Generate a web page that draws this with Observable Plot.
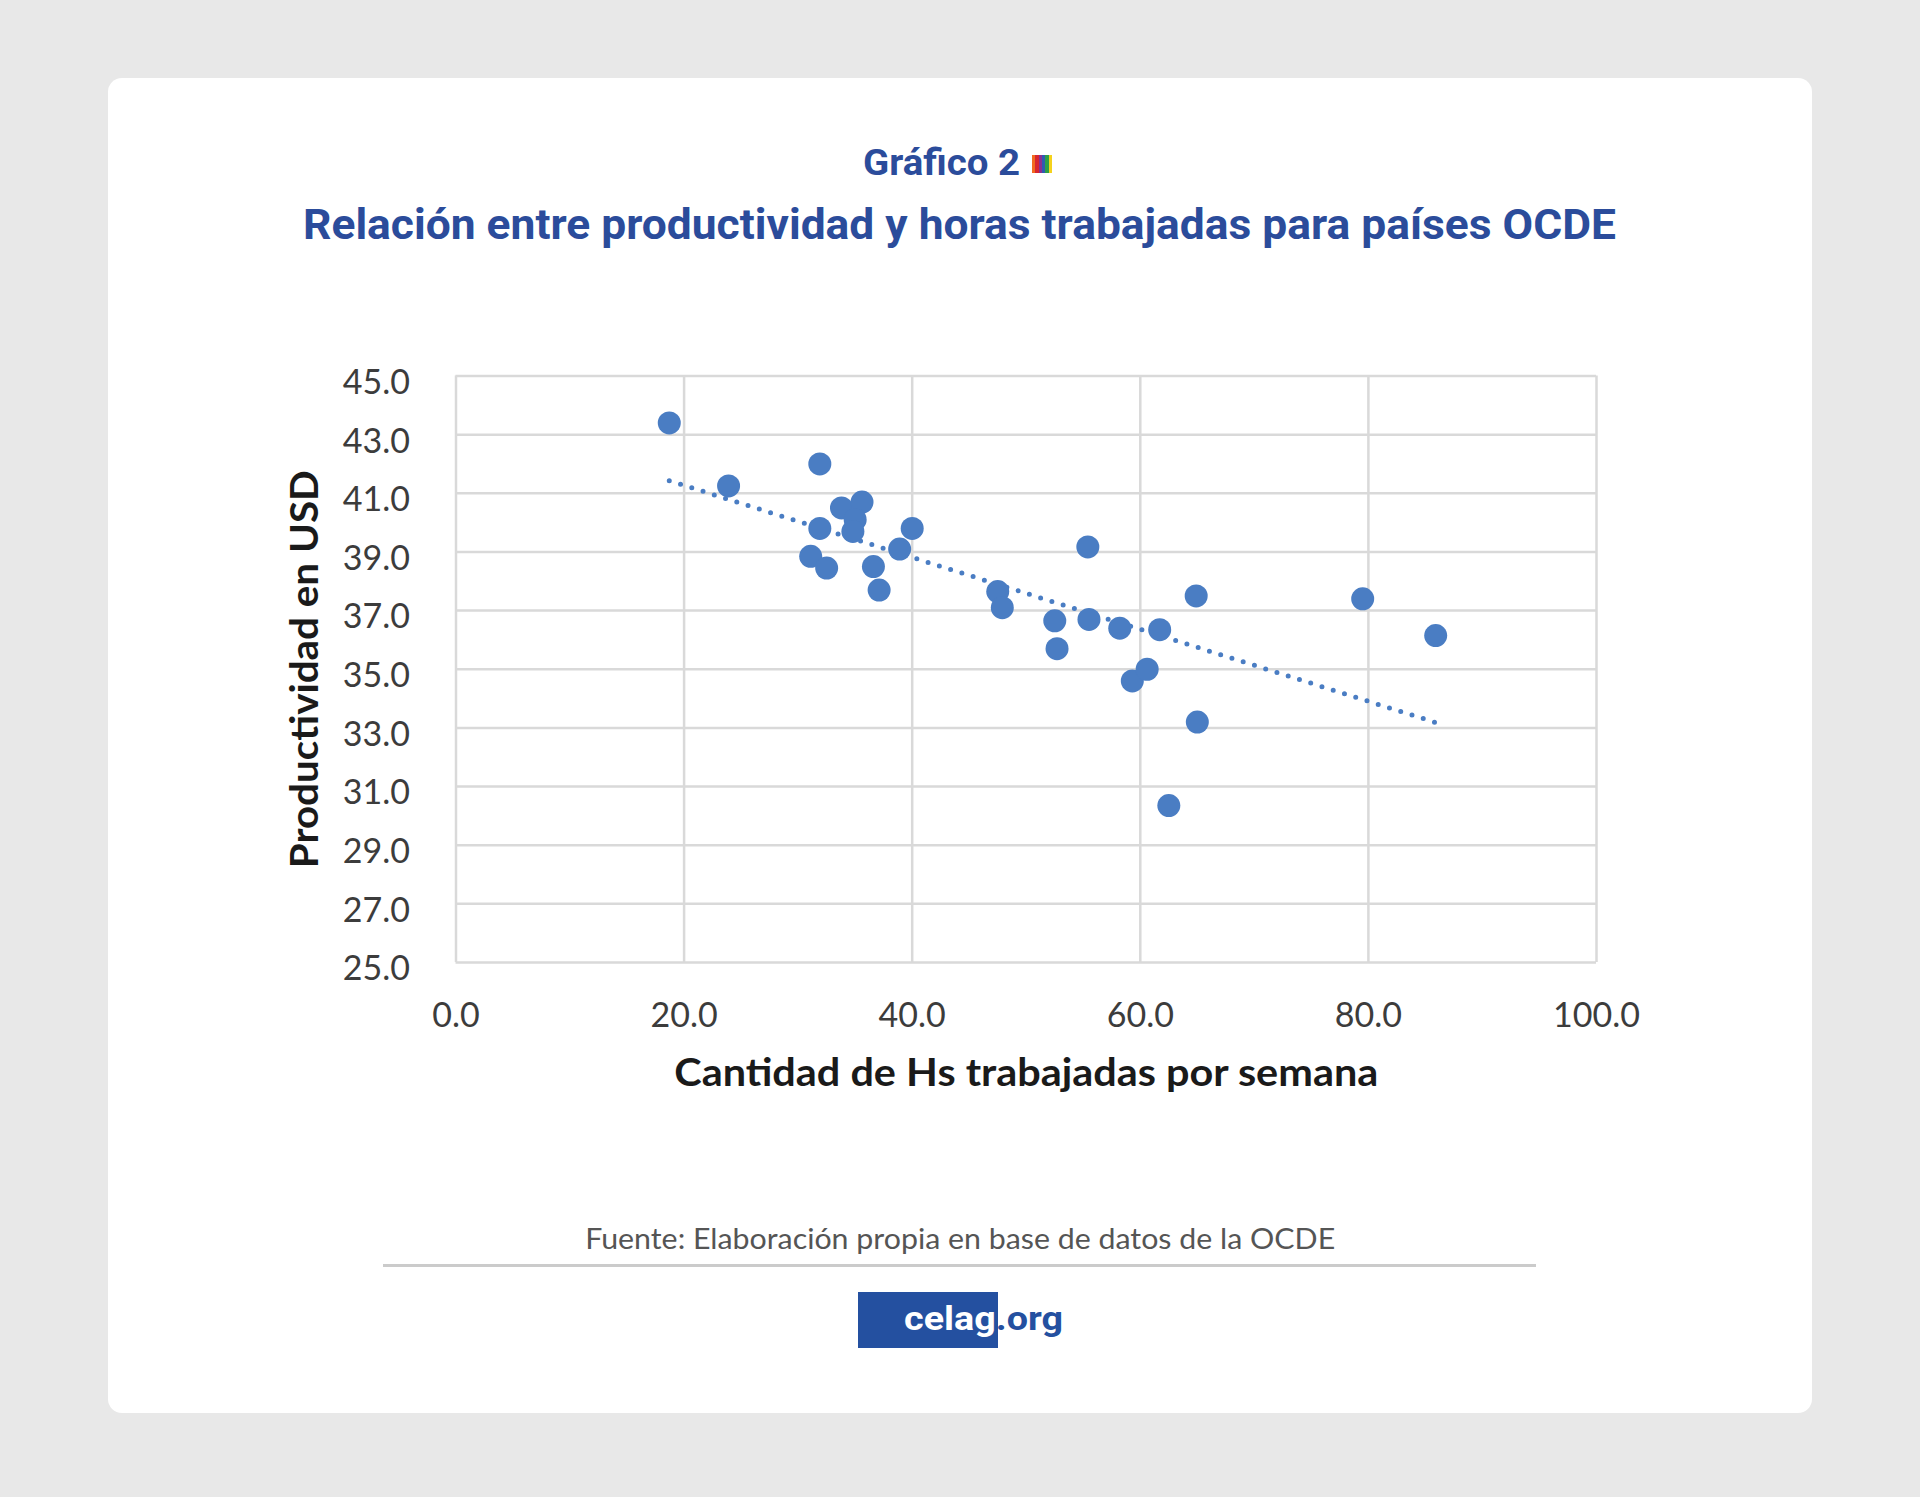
<!DOCTYPE html>
<html>
<head>
<meta charset="utf-8">
<script src="https://cdn.jsdelivr.net/npm/d3@7"></script>
<script src="https://cdn.jsdelivr.net/npm/@observablehq/plot@0.6"></script>
<style>
  html, body { margin: 0; padding: 0; }
  body { width: 1920px; height: 1497px; background: #e8e8e8; position: relative; overflow: hidden; font-family: Lato, "Open Sans", sans-serif; }
  #card { position: absolute; left: 108px; top: 78px; width: 1704px; height: 1335px; background: #ffffff; border-radius: 14px; }
  .line { position: absolute; left: 0; width: 1920px; text-align: center; white-space: nowrap; height: 60px; line-height: 60px; }
  .fit { display: inline-block; transform-origin: 50% 50%; white-space: nowrap; }
  #kicker { position: absolute; left: 0; width: 1020px; top: 133px; height: 60px; line-height: 60px; text-align: right; white-space: nowrap; font-family: Roboto, sans-serif; font-weight: 700; font-size: 37px; color: #2b4c9b; }
  #kicker .fit { transform-origin: 100% 50%; }
  #flag { position: absolute; left: 1032px; top: 155px; display: flex; width: 20px; height: 18px; }
  #flag span { flex: 1; height: 100%; }
  #title { top: 194px; font-family: Roboto, sans-serif; font-weight: 700; font-size: 43px; color: #2b4c9b; }
  #chart { position: absolute; left: 0; top: 270px; width: 1920px; }
  #caption { top: 1208px; font-family: Lato, sans-serif; font-weight: 400; font-size: 28px; color: #555555; }
  #rule { position: absolute; left: 383px; top: 1264px; width: 1153px; height: 3px; background: #cbcbcb; }
  #logoBox { position: absolute; left: 858px; top: 1292px; width: 140px; height: 56px; background: #2450a0; }
  #logoText { position: absolute; left: 904px; top: 1289px; height: 60px; line-height: 60px; font-family: Roboto, sans-serif; font-weight: 700; font-size: 33px; white-space: nowrap; }
  #logoText .fit { transform-origin: 0 50%; }
</style>
</head>
<body>
<div id="card"></div>
<div id="kicker"><span class="fit" data-w="157">Gráfico 2</span></div>
<div id="flag"></div>
<div class="line" id="title"><span class="fit" data-w="1313">Relación entre productividad y horas trabajadas para países OCDE</span></div>
<div id="chart"></div>
<div class="line" id="caption"><span class="fit" data-w="750">Fuente: Elaboración propia en base de datos de la OCDE</span></div>
<div id="rule"></div>
<div id="logoBox"></div>
<div id="logoText"><span class="fit" data-w="159"><span style="color:#ffffff">celag</span><span style="color:#2450a0">.org</span></span></div>
<script>
// ---- Data ----
const hoursPerWeek = [18.7, 23.9, 31.9, 33.8, 35.6, 35.0, 34.8, 31.9, 40.0, 38.9, 31.1, 32.5, 36.6, 37.1, 47.5, 47.9, 55.4, 52.5, 55.5, 52.7, 58.2, 61.7, 64.9, 59.3, 60.6, 65.0, 62.5, 79.5, 85.9];
const productivityUSD = [43.4, 41.25, 42.0, 40.5, 40.7, 40.1, 39.7, 39.8, 39.8, 39.1, 38.85, 38.45, 38.5, 37.7, 37.65, 37.1, 39.17, 36.65, 36.7, 35.7, 36.4, 36.35, 37.5, 34.6, 35.0, 33.2, 30.35, 37.4, 36.15];
const xTicks = [0, 20, 40, 60, 80, 100];
const yTicks = [25, 27, 29, 31, 33, 35, 37, 39, 41, 43, 45];
const xLabel = "Cantidad de Hs trabajadas por semana";
const yLabel = "Productividad en USD";
const flagColors = ["#f26b21", "#d7262f", "#8b2f8f", "#2f5bb0", "#2e9f48", "#f5d21c"];

const points = hoursPerWeek.map((h, i) => ({hours: h, prod: productivityUSD[i]}));
const blue = "#4a7dc3";
const gridStyle = {stroke: "#d9d9d9", strokeOpacity: 1, strokeWidth: 2.5};

const flag = document.getElementById("flag");
flagColors.forEach(c => { const s = document.createElement("span"); s.style.background = c; flag.appendChild(s); });

const chart = Plot.plot({
  width: 1920,
  height: 840,
  marginLeft: 455.5,
  marginRight: 324,
  marginTop: 105.5,
  marginBottom: 148,
  style: {background: "transparent", fontFamily: "Lato, 'Open Sans', sans-serif", overflow: "visible"},
  x: {domain: [0, 100]},
  y: {domain: [25, 45]},
  marks: [
    Plot.gridX(xTicks, gridStyle),
    Plot.gridY(yTicks, gridStyle),
    Plot.axisX(xTicks, {tickSize: 0, tickPadding: 40, tickFormat: d => d.toFixed(1), fontSize: 34, fill: "#3c3c3c", label: null}),
    Plot.axisY(yTicks, {tickSize: 0, tickPadding: 46, tickFormat: d => d.toFixed(1), fontSize: 34, fill: "#3c3c3c", dy: 7, label: null}),
    Plot.linearRegressionY(points, {x: "hours", y: "prod", ci: 0, stroke: blue, strokeWidth: 5, strokeDasharray: "0 11.8", strokeLinecap: "round"}),
    Plot.dot(points, {x: "hours", y: "prod", r: 11.5, fill: blue, stroke: "none"}),
    Plot.text([xLabel], {frameAnchor: "bottom", dy: 111, fontSize: 39, fontWeight: 700, fill: "#1a1a1a", lineAnchor: "middle", className: "xlab"}),
    Plot.text([yLabel], {frameAnchor: "left", dx: -150, rotate: -90, fontSize: 39, fontWeight: 700, fill: "#1a1a1a", lineAnchor: "middle", textAnchor: "middle", className: "ylab"})
  ]
});
document.getElementById("chart").appendChild(chart);

function fitSvgLabel(cls, len) {
  chart.querySelectorAll(`.${cls} text`).forEach(t => {
    t.setAttribute("textLength", len);
    t.setAttribute("lengthAdjust", "spacingAndGlyphs");
  });
}
fitSvgLabel("xlab", 704);
fitSvgLabel("ylab", 398);

function fitAll() {
  document.querySelectorAll("[data-w]").forEach(el => {
    el.style.transform = "none";
    const w = el.getBoundingClientRect().width;
    if (w > 0) el.style.transform = `scaleX(${(+el.dataset.w / w).toFixed(4)})`;
  });
}
fitAll();
if (document.fonts && document.fonts.ready) document.fonts.ready.then(fitAll);
</script>
</body>
</html>
